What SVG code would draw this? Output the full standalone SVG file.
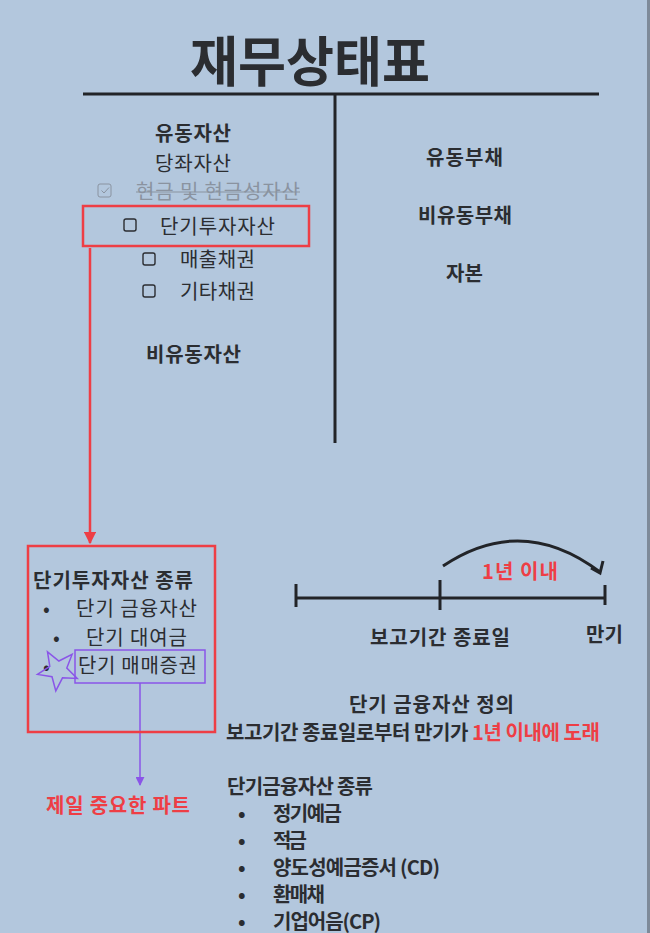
<svg xmlns="http://www.w3.org/2000/svg" width="650" height="933" viewBox="0 0 650 933">
<defs>
<style>
text{font-family:"Noto Sans CJK KR","Noto Sans",sans-serif;fill:#2b2d31;font-size:20px;dominant-baseline:central}
.b{font-weight:bold}
.red{fill:#ee3e45}
.c{text-anchor:middle}
.ln{stroke:#222428;stroke-width:3;fill:none}
.box{fill:none;stroke:#2b2d31;stroke-width:1.4}
</style>
<marker id="ar" viewBox="0 0 10 10" refX="9" refY="5" markerWidth="5" markerHeight="5" orient="auto"><path d="M0,0 L10,5 L0,10 z" fill="#ee3e45"/></marker>
<marker id="ap" viewBox="0 0 10 10" refX="9" refY="5" markerWidth="6" markerHeight="6" orient="auto"><path d="M0,0 L10,5 L0,10 z" fill="#8a55e8"/></marker>
</defs>
<rect width="650" height="933" fill="#b3c7dd"/>
<rect x="647" y="0" width="3" height="933" fill="#7e8a99"/>

<g id="title">
<text x="190" y="58" class="b" style="font-size:54px" textLength="240" lengthAdjust="spacingAndGlyphs">재무상태표</text>
</g>

<g id="connectors">
<line x1="83" y1="94" x2="599" y2="94" class="ln"/>
<line x1="335" y1="94" x2="335" y2="443" class="ln"/>
<line x1="90" y1="248" x2="90" y2="543" stroke="#ee3e45" stroke-width="2.5" marker-end="url(#ar)"/>
<line x1="140" y1="683" x2="140" y2="785" stroke="#8a55e8" stroke-width="1.5" marker-end="url(#ap)"/>
</g>

<g id="assets">
<text x="155" y="132" class="b" textLength="76">유동자산</text>
<text x="155" y="162" textLength="76">당좌자산</text>
<rect x="98" y="184" width="13" height="13" rx="2" fill="none" stroke="#8a93a0" stroke-width="1"/>
<path d="M101.5,190.5 l2.5,2.5 l5,-5.5" fill="none" stroke="#8a93a0" stroke-width="1"/>
<text x="136" y="190" style="fill:#8a93a0" textLength="164">현금 및 현금성자산</text>
<line x1="136" y1="192" x2="300" y2="192" stroke="#8a93a0" stroke-width="1.2"/>
<rect x="83" y="206" width="226" height="40" fill="none" stroke="#ee3e45" stroke-width="2.5"/>
<rect x="124" y="219" width="12" height="12" rx="2" class="box"/>
<text x="160" y="225" textLength="115">단기투자자산</text>
<rect x="143" y="253" width="12" height="12" rx="2" class="box"/>
<text x="180" y="258" textLength="75">매출채권</text>
<rect x="143" y="285" width="12" height="12" rx="2" class="box"/>
<text x="180" y="290" textLength="75">기타채권</text>
<text x="146" y="353" class="b" textLength="95">비유동자산</text>
</g>

<g id="liabilities">
<text x="426" y="156" class="b" textLength="77">유동부채</text>
<text x="418" y="214" class="b" textLength="94">비유동부채</text>
<text x="446" y="272" class="b" textLength="37">자본</text>
</g>

<g id="st-types">
<rect x="28" y="546" width="187" height="186" fill="none" stroke="#ee3e45" stroke-width="2.5"/>
<text x="33" y="579" class="b" textLength="160">단기투자자산 종류</text>
<text x="43" y="607">•</text>
<text x="76" y="607" textLength="121">단기 금융자산</text>
<text x="53" y="636">•</text>
<text x="86" y="636" textLength="101">단기 대여금</text>
<text x="43" y="665">•</text>
<rect x="75" y="650" width="130" height="33" fill="none" stroke="#8a55e8" stroke-width="1.5"/>
<text x="78" y="664" textLength="119">단기 매매증권</text>
<polygon points="47.5,651.8 58.9,661 72.1,654.4 66.8,668.1 77.2,678.5 62.5,677.8 55.8,690.9 52,676.7 37.5,674.4 49.8,666.3" fill="none" stroke="#8a55e8" stroke-width="1.5"/>
</g>

<g id="important">
<text x="46" y="804" class="b red" textLength="144">제일 중요한 파트</text>
</g>

<g id="timeline">
<line x1="296" y1="598" x2="605" y2="598" class="ln"/>
<line x1="296" y1="584" x2="296" y2="607" class="ln"/>
<line x1="440" y1="580" x2="440" y2="610" class="ln"/>
<line x1="605" y1="585" x2="605" y2="605" class="ln"/>
<path d="M443,566 Q522,513 600,572" class="ln" stroke-width="2.5"/>
<polyline points="591,568 600,573 603,561" class="ln" stroke-width="2.5"/>
<text x="482" y="570" class="b red" textLength="76">1년 이내</text>
<text x="370" y="636" class="b" textLength="140">보고기간 종료일</text>
<text x="586" y="633" class="b" textLength="37">만기</text>
</g>

<g id="definition">
<text x="349" y="703" class="b" textLength="165">단기 금융자산 정의</text>
<text x="226" y="731" class="b" textLength="374">보고기간 종료일로부터 만기가 <tspan class="red">1년 이내에 도래</tspan></text>
</g>

<g id="fin-types">
<text x="227" y="785" class="b" textLength="146">단기금융자산 종류</text>
<text x="238" y="812" class="b">•</text><text x="273" y="812" class="b" textLength="69">정기예금</text>
<text x="238" y="839" class="b">•</text><text x="273" y="839" class="b" textLength="34">적금</text>
<text x="238" y="866" class="b">•</text><text x="273" y="866" class="b" textLength="167">양도성예금증서 (CD)</text>
<text x="238" y="893" class="b">•</text><text x="273" y="893" class="b" textLength="52">환매채</text>
<text x="238" y="920" class="b">•</text><text x="273" y="920" class="b" textLength="108">기업어음(CP)</text>
</g>
</svg>
